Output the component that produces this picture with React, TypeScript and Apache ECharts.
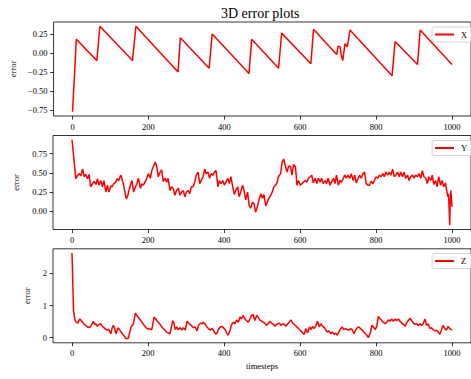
import React, { useEffect, useRef } from "react";
import * as echarts from "echarts";

const xTickValues = [0, 200, 400, 600, 800, 1000];
const xErrTicks = [-0.75, -0.5, -0.25, 0, 0.25];
const yErrTicks = [0, 0.25, 0.5, 0.75];
const zErrTicks = [0, 1, 2];

const xErrSteps = [0, 10, 64, 72, 158, 167, 278, 284, 360, 368, 465, 472, 543, 551, 628, 635, 696, 700, 705, 709, 712, 718, 724, 731, 842, 850, 909, 916, 1000];
const xErrValues = [-0.77, 0.18, -0.1, 0.35, -0.1, 0.35, -0.25, 0.2, -0.2, 0.25, -0.27, 0.18, -0.2, 0.26, -0.14, 0.31, -0.02, 0.09, 0.08, -0.05, -0.1, 0.12, 0.08, 0.3, -0.3, 0.15, -0.15, 0.3, -0.15];

const yErrSteps = [0, 10, 15, 19, 23, 28, 32, 36, 41, 45, 49, 54, 58, 63, 67, 71, 76, 80, 84, 89, 93, 97, 102, 106, 110, 115, 119, 123, 128, 130, 135, 143, 147, 154, 158, 162, 167, 171, 175, 180, 184, 188, 193, 197, 201, 206, 210, 214, 219, 223, 227, 232, 236, 240, 245, 249, 253, 258, 262, 266, 271, 275, 280, 284, 288, 293, 297, 301, 306, 310, 314, 319, 323, 327, 332, 336, 340, 345, 349, 353, 358, 362, 366, 371, 375, 379, 384, 388, 392, 397, 401, 405, 410, 414, 418, 423, 427, 431, 436, 440, 444, 449, 453, 457, 462, 466, 470, 475, 479, 483, 488, 492, 497, 501, 505, 510, 514, 518, 523, 527, 531, 536, 540, 543, 549, 553, 557, 562, 566, 570, 575, 579, 583, 588, 592, 596, 601, 605, 609, 614, 618, 622, 627, 631, 635, 640, 644, 648, 653, 657, 661, 666, 670, 674, 679, 683, 688, 692, 696, 701, 705, 709, 714, 718, 722, 726, 731, 735, 740, 744, 748, 753, 757, 761, 766, 770, 774, 779, 783, 787, 792, 796, 800, 805, 809, 813, 818, 822, 826, 831, 835, 839, 844, 848, 852, 857, 861, 865, 870, 874, 878, 883, 887, 891, 896, 900, 904, 909, 913, 918, 922, 926, 931, 935, 939, 944, 948, 952, 957, 961, 965, 970, 974, 978, 983, 985, 989, 991, 994, 995, 997, 1000];
const yErrValues = [0.93, 0.425, 0.47, 0.49, 0.46, 0.55, 0.45, 0.48, 0.425, 0.48, 0.32, 0.36, 0.39, 0.35, 0.42, 0.34, 0.4, 0.32, 0.4, 0.25, 0.34, 0.25, 0.33, 0.32, 0.36, 0.38, 0.425, 0.4, 0.47, 0.45, 0.36, 0.16, 0.21, 0.35, 0.4, 0.25, 0.32, 0.36, 0.43, 0.3, 0.36, 0.34, 0.39, 0.43, 0.49, 0.43, 0.53, 0.58, 0.64, 0.58, 0.45, 0.51, 0.54, 0.39, 0.43, 0.38, 0.43, 0.27, 0.32, 0.3, 0.21, 0.27, 0.3, 0.21, 0.25, 0.27, 0.19, 0.25, 0.27, 0.23, 0.32, 0.32, 0.38, 0.47, 0.51, 0.36, 0.4, 0.45, 0.55, 0.49, 0.51, 0.43, 0.49, 0.47, 0.51, 0.53, 0.32, 0.4, 0.36, 0.4, 0.34, 0.38, 0.43, 0.36, 0.45, 0.32, 0.22, 0.27, 0.32, 0.19, 0.25, 0.34, 0.27, 0.15, 0.25, 0.08, 0.04, 0.12, 0.1, -0.01, 0.06, 0.15, 0.23, 0.17, 0.22, 0.07, 0.12, 0.17, 0.21, 0.25, 0.32, 0.34, 0.38, 0.45, 0.49, 0.64, 0.68, 0.58, 0.51, 0.59, 0.58, 0.47, 0.61, 0.58, 0.34, 0.4, 0.34, 0.36, 0.38, 0.4, 0.38, 0.43, 0.45, 0.47, 0.37, 0.43, 0.36, 0.43, 0.38, 0.43, 0.36, 0.4, 0.36, 0.43, 0.34, 0.38, 0.43, 0.36, 0.47, 0.34, 0.4, 0.38, 0.43, 0.47, 0.43, 0.47, 0.43, 0.49, 0.4, 0.47, 0.37, 0.43, 0.47, 0.43, 0.49, 0.51, 0.36, 0.34, 0.34, 0.39, 0.36, 0.4, 0.45, 0.43, 0.47, 0.45, 0.49, 0.45, 0.51, 0.47, 0.51, 0.47, 0.55, 0.45, 0.47, 0.51, 0.45, 0.51, 0.45, 0.51, 0.43, 0.47, 0.4, 0.45, 0.47, 0.43, 0.47, 0.45, 0.49, 0.43, 0.53, 0.45, 0.43, 0.36, 0.45, 0.4, 0.47, 0.35, 0.4, 0.32, 0.45, 0.34, 0.4, 0.32, 0.37, 0.3, 0.19, 0.23, -0.18, 0.08, 0.27, 0.06];

const zErrSteps = [0, 4, 8, 11, 15, 20, 23, 28, 32, 36, 41, 45, 49, 54, 56, 60, 63, 67, 71, 76, 80, 84, 89, 93, 97, 102, 106, 109, 112, 116, 121, 125, 129, 134, 138, 142, 148, 152, 156, 161, 167, 171, 180, 188, 197, 210, 216, 223, 232, 240, 249, 258, 265, 268, 272, 276, 280, 285, 289, 293, 298, 303, 307, 311, 316, 320, 324, 329, 333, 338, 342, 346, 351, 355, 359, 364, 368, 372, 377, 381, 385, 390, 394, 398, 403, 407, 411, 416, 420, 425, 429, 433, 438, 442, 446, 450, 455, 459, 464, 468, 472, 477, 481, 486, 490, 494, 499, 503, 507, 512, 516, 521, 525, 530, 534, 538, 542, 546, 550, 555, 559, 563, 568, 572, 576, 581, 585, 590, 594, 598, 602, 607, 611, 615, 620, 625, 629, 633, 637, 642, 646, 651, 655, 660, 664, 668, 672, 676, 681, 685, 690, 694, 698, 702, 707, 711, 715, 720, 724, 729, 733, 738, 742, 747, 751, 755, 759, 764, 768, 772, 776, 780, 785, 789, 793, 798, 802, 806, 811, 815, 819, 824, 828, 833, 837, 841, 846, 850, 854, 859, 863, 868, 872, 877, 880, 885, 889, 894, 898, 903, 907, 911, 916, 920, 924, 929, 933, 937, 942, 946, 950, 955, 959, 964, 968, 972, 976, 981, 985, 990, 994, 998, 1000];
const zErrValues = [2.64, 0.84, 0.53, 0.48, 0.45, 0.58, 0.55, 0.48, 0.41, 0.38, 0.33, 0.31, 0.35, 0.45, 0.51, 0.41, 0.43, 0.35, 0.41, 0.43, 0.35, 0.31, 0.25, 0.23, 0.25, 0.12, 0.31, 0.38, 0.28, 0.12, 0.31, 0.25, 0.17, 0.1, 0.04, -0.03, -0.03, 0.17, 0.35, 0.41, 0.76, 0.69, 0.55, 0.41, 0.28, 0.25, 0.64, 0.53, 0.41, 0.28, 0.17, 0.12, 0.53, 0.45, 0.25, 0.33, 0.25, 0.31, 0.23, 0.31, 0.23, 0.51, 0.45, 0.41, 0.35, 0.31, 0.33, 0.21, 0.38, 0.45, 0.43, 0.48, 0.41, 0.33, 0.28, 0.23, 0.28, 0.23, 0.12, 0.12, 0.25, 0.33, 0.35, 0.31, 0.25, 0.14, 0.07, 0.23, 0.41, 0.48, 0.43, 0.55, 0.48, 0.64, 0.58, 0.69, 0.58, 0.53, 0.48, 0.58, 0.69, 0.72, 0.53, 0.69, 0.64, 0.55, 0.51, 0.48, 0.45, 0.38, 0.43, 0.51, 0.45, 0.41, 0.35, 0.41, 0.43, 0.45, 0.38, 0.43, 0.41, 0.35, 0.43, 0.48, 0.55, 0.45, 0.41, 0.35, 0.31, 0.25, 0.21, 0.14, 0.1, 0.28, 0.14, 0.33, 0.25, 0.35, 0.28, 0.38, 0.51, 0.33, 0.43, 0.35, 0.31, 0.23, 0.17, 0.21, 0.12, 0.17, 0.1, 0.14, 0.07, 0.17, 0.28, 0.33, 0.25, 0.28, 0.25, 0.23, 0.28, 0.23, 0.12, 0.25, 0.31, 0.33, 0.28, 0.23, 0.17, 0.12, 0.07, 0.0, 0.14, 0.38, 0.33, 0.25, 0.35, 0.66, 0.58, 0.53, 0.48, 0.43, 0.48, 0.55, 0.51, 0.58, 0.51, 0.58, 0.53, 0.58, 0.51, 0.45, 0.41, 0.35, 0.45, 0.53, 0.6, 0.53, 0.45, 0.41, 0.43, 0.38, 0.43, 0.38, 0.43, 0.58, 0.38, 0.43, 0.28, 0.31, 0.25, 0.21, 0.23, 0.17, 0.1, 0.23, 0.38, 0.28, 0.23, 0.35, 0.28, 0.25, 0.23];

const FONT = "Liberation Serif";
const minus = (s: string) => s.replace("-", "\u2212");

function zip(xs: number[], ys: number[]) {
  return xs.map((x, i) => [x, ys[i]]);
}

export default function App() {
  const ref = useRef<HTMLDivElement>(null);
  useEffect(() => {
    if (!ref.current) return;
    const chart = echarts.init(ref.current, null, { renderer: "svg" });
    const grids = [
      { left: 53, right: -3, top: 22, height: 94 },
      { left: 53, right: -3, top: 135.5, height: 94 },
      { left: 53, right: -3, top: 248.8, height: 94 },
    ].map((g) => ({ ...g, show: true, borderColor: "#000", borderWidth: 0.8, backgroundColor: "transparent" }));

    const xAxisBase = (i: number) => ({
      type: "value",
      gridIndex: i,
      min: -50,
      max: 1050,
      axisLine: { show: false, onZero: false },
      splitLine: { show: false },
      axisTick: { show: true, inside: false, length: 3.5, lineStyle: { color: "#000", width: 0.8 }, customValues: xTickValues },
      axisLabel: { show: true, margin: 6, fontFamily: FONT, fontSize: 8.5, color: "#000", customValues: xTickValues, formatter: (v: number) => String(v) },
      ...(i === 2
        ? { name: "timesteps", nameLocation: "middle", nameGap: 19, nameTextStyle: { fontFamily: FONT, fontSize: 8.5, color: "#000" } }
        : {}),
    });

    const yAxisBase = (i: number, min: number, max: number, ticks: number[], dec: number) => ({
      type: "value",
      gridIndex: i,
      min,
      max,
      axisLine: { show: false, onZero: false },
      splitLine: { show: false },
      axisTick: { show: true, inside: false, length: 3.5, lineStyle: { color: "#000", width: 0.8 }, customValues: ticks },
      axisLabel: { show: true, margin: 6, fontFamily: FONT, fontSize: 8.5, color: "#000", customValues: ticks, formatter: (v: number) => minus(v.toFixed(dec)) },
      name: "error",
      nameLocation: "middle",
      nameGap: dec === 0 ? 21 : 33,
      nameTextStyle: { fontFamily: FONT, fontSize: 8.5, color: "#000" },
    });

    const legendBase = (name: string, top: number) => ({
      data: [name],
      left: 432,
      top,
      orient: "vertical",
      icon: "rect",
      itemWidth: 19,
      itemHeight: 2,
      itemGap: 0,
      padding: [3, 12, 3, 3],
      borderColor: "#cccccc",
      borderWidth: 0.8,
      borderRadius: 2,
      backgroundColor: "rgba(255,255,255,0.8)",
      textStyle: { fontFamily: FONT, fontSize: 8.5, color: "#000", padding: [0, 0, 0, 2] },
      selectedMode: false,
    });

    const lineSeries = (name: string, i: number, data: number[][]) => ({
      name,
      type: "line",
      xAxisIndex: i,
      yAxisIndex: i,
      data,
      showSymbol: false,
      symbol: "none",
      lineStyle: { color: "#ff0000", width: 1.5 },
      itemStyle: { color: "#ff0000" },
      clip: true,
    });

    chart.setOption({
      animation: false,
      backgroundColor: "#fff",
      title: {
        text: "3D error plots",
        left: 216,
        top: 1,
        textStyle: { fontFamily: FONT, fontSize: 14, fontWeight: "normal", color: "#000" },
      },
      grid: grids,
      xAxis: [xAxisBase(0), xAxisBase(1), xAxisBase(2)],
      yAxis: [
        yAxisBase(0, -0.826, 0.406, xErrTicks, 2),
        yAxisBase(1, -0.2355, 0.9855, yErrTicks, 2),
        yAxisBase(2, -0.164, 2.77, zErrTicks, 0),
      ],
      legend: [legendBase("X", 27), legendBase("Y", 140.5), legendBase("Z", 253.5)],
      series: [
        lineSeries("X", 0, zip(xErrSteps, xErrValues)),
        lineSeries("Y", 1, zip(yErrSteps, yErrValues)),
        lineSeries("Z", 2, zip(zErrSteps, zErrValues)),
      ],
    });
    return () => chart.dispose();
  }, []);
  return <div ref={ref} style={{ position: "fixed", left: 0, top: 0, width: 471, height: 379, background: "#fff" }} />;
}
